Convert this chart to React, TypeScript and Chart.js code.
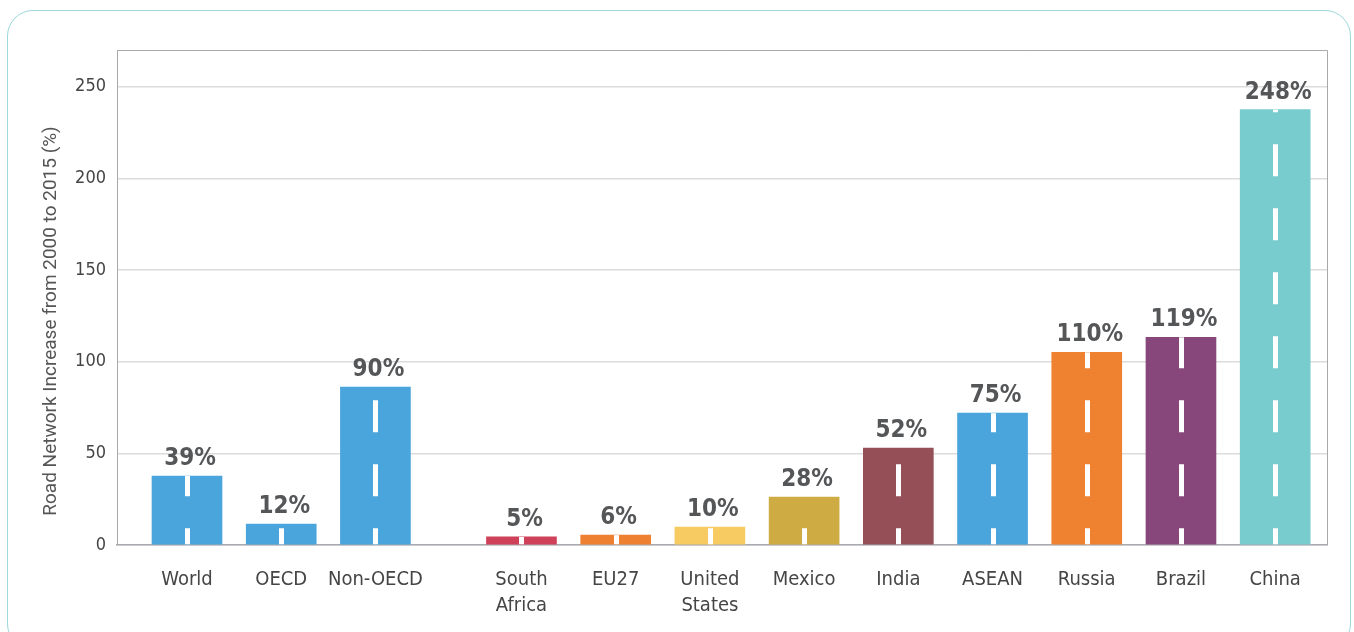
import React, { useEffect, useRef } from 'react';
import { Chart, registerables } from 'chart.js';

Chart.register(...registerables);

// ---- data ----
const categories: string[][] = [
  ['World'], ['OECD'], ['Non-OECD'],
  ['South', 'Africa'], ['EU27'], ['United', 'States'], ['Mexico'],
  ['India'], ['ASEAN'], ['Russia'], ['Brazil'], ['China'],
];
const barValues = [37.6, 11.4, 86.1, 4.4, 5.4, 9.8, 26.1, 52.8, 71.9, 105.1, 113.3, 237.5];
const valueLabels = ['39%', '12%', '90%', '5%', '6%', '10%', '28%', '52%', '75%', '110%', '119%', '248%'];
const barColors = [
  '#49A5DB', '#49A5DB', '#49A5DB',
  '#CF4059', '#EE8131', '#F8CA62', '#CFAB43',
  '#944F57', '#49A5DB', '#EE8231', '#88477B', '#79CCCE',
];
const yTicks = [0, 50, 100, 150, 200, 250];
const yTitle = 'Road Network Increase from 2000 to 2015 (%)';
const aggregateCount = 3;
const groupGap = 0.55;

const xPositions = categories.map((_, i) => i + (i >= aggregateCount ? groupGap : 0));

const NARROW = '"DejaVu Sans Condensed", "Liberation Sans Narrow", Roboto, sans-serif';

const decorPlugin = {
  id: 'decor',
  beforeDatasetsDraw(chart: any) {
    const { ctx, chartArea } = chart;
    ctx.save();
    ctx.strokeStyle = '#a9a9a9';
    ctx.lineWidth = 1;
    ctx.beginPath();
    ctx.moveTo(chartArea.left, chartArea.top + 0.5);
    ctx.lineTo(chartArea.right + 0.5, chartArea.top + 0.5);
    ctx.lineTo(chartArea.right + 0.5, chartArea.bottom);
    ctx.stroke();
    ctx.restore();
  },
  afterDatasetsDraw(chart: any) {
    const { ctx } = chart;
    const meta = chart.getDatasetMeta(0);
    ctx.save();
    // road dashes
    meta.data.forEach((bar: any) => {
      ctx.save();
      ctx.strokeStyle = '#ffffff';
      ctx.lineWidth = 5;
      ctx.lineCap = 'butt';
      ctx.setLineDash([32, 32]);
      ctx.lineDashOffset = 16;
      ctx.beginPath();
      ctx.moveTo(Math.round(bar.x) + 0.5, bar.base);
      ctx.lineTo(Math.round(bar.x) + 0.5, bar.y);
      ctx.stroke();
      ctx.restore();
    });
    // value labels
    ctx.fillStyle = '#555658';
    ctx.font = `bold 24px ${NARROW}`;
    ctx.textAlign = 'center';
    ctx.textBaseline = 'alphabetic';
    meta.data.forEach((bar: any, i: number) => {
      ctx.fillText(valueLabels[i], bar.x + 3, bar.y - 11);
    });
    ctx.restore();
  },
  afterDraw(chart: any) {
    const { ctx } = chart;
    ctx.save();
    ctx.translate(51, 321);
    ctx.rotate(-Math.PI / 2);
    ctx.fillStyle = '#555555';
    ctx.font = '19px Roboto, "Open Sans", sans-serif';
    ctx.textAlign = 'center';
    ctx.textBaseline = 'middle';
    ctx.fillText(yTitle, 0, 0);
    ctx.restore();
  },
};

export default function App() {
  const canvasRef = useRef<HTMLCanvasElement | null>(null);

  useEffect(() => {
    if (!canvasRef.current) return;
    const chart = new Chart(canvasRef.current, {
      type: 'bar',
      data: {
        datasets: [
          {
            data: barValues.map((v, i) => ({ x: xPositions[i], y: v })),
            backgroundColor: barColors,
            borderWidth: 0,
            barThickness: 70,
          },
        ],
      },
      options: {
        animation: false,
        responsive: false,
        maintainAspectRatio: false,
        layout: { padding: { top: 50, right: 27, left: 0, bottom: 0 } },
        plugins: { legend: { display: false }, tooltip: { enabled: false } },
        scales: {
          x: {
            type: 'linear',
            offset: false,
            min: -0.743,
            max: 12.1,
            grid: { display: false, offset: false },
            border: { display: true, color: '#a9a9b0', width: 1.5 },
            afterBuildTicks: (scale: any) => {
              scale.ticks = xPositions.map((value) => ({ value }));
            },
            afterFit: (scale: any) => {
              scale.height = 87;
            },
            ticks: {
              autoSkip: false,
              maxRotation: 0,
              minRotation: 0,
              padding: 14,
              color: '#454545',
              font: { family: NARROW, size: 20, lineHeight: 1.3 },
              callback: (_v: any, i: number) => categories[i],
            },
          },
          y: {
            type: 'linear',
            min: 0,
            max: 270,
            afterBuildTicks: (scale: any) => {
              scale.ticks = yTicks.map((value) => ({ value }));
            },
            afterFit: (scale: any) => {
              scale.width = 117;
            },
            grid: {
              color: '#dcdcdc',
              lineWidth: 1.5,
              drawTicks: false,
            },
            border: { display: true, color: '#a9a9a9', width: 1 },
            ticks: {
              padding: 11,
              color: '#454545',
              font: { family: NARROW, size: 18 },
            },
          },
        },
      },
      plugins: [decorPlugin],
    } as any);
    return () => chart.destroy();
  }, []);

  return (
    <div style={{ position: 'absolute', left: 0, top: 0, width: 1354, height: 632, overflow: 'hidden', background: '#fff' }}>
      <div
        style={{
          position: 'absolute',
          left: 7,
          top: 10,
          width: 1344,
          height: 640,
          border: '1.5px solid #9DD8DC',
          borderRadius: 26,
          boxSizing: 'border-box',
        }}
      />
      <canvas ref={canvasRef} width={1354} height={632} style={{ position: 'absolute', left: 0, top: 0 }} />
    </div>
  );
}
